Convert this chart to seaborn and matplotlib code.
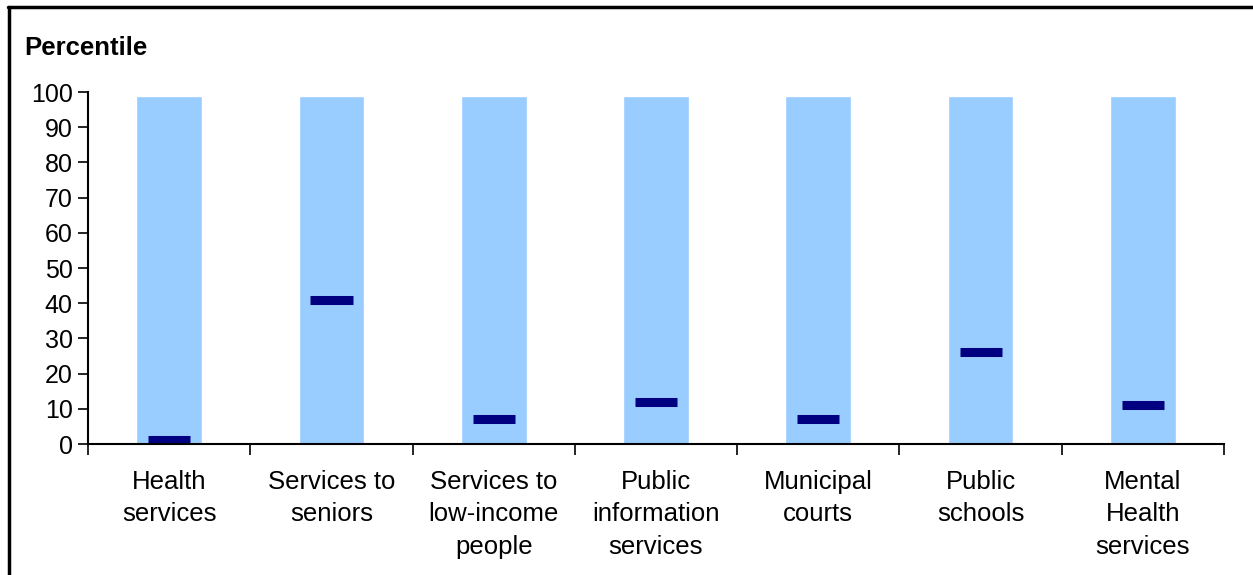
import numpy as np
import matplotlib
matplotlib.use("Agg")
import matplotlib.pyplot as plt
import seaborn as sns
from matplotlib.lines import Line2D

# categories and values
categories = ["Health\nservices", "Services to\nseniors", "Services to\nlow-income\npeople",
              "Public\ninformation\nservices", "Municipal\ncourts", "Public\nschools",
              "Mental\nHealth\nservices"]
range_top = [99, 99, 99, 99, 99, 99, 99]
percentile = [1, 41, 7, 12, 7, 26, 11]

sns.set_style("white")
plt.rcParams["font.family"] = ["Liberation Sans", "DejaVu Sans"]
plt.rcParams["text.color"] = "black"
plt.rcParams["xtick.color"] = "black"
plt.rcParams["ytick.color"] = "black"
plt.rcParams["xtick.labelcolor"] = "black"
plt.rcParams["ytick.labelcolor"] = "black"

fig = plt.figure(figsize=(12.53, 5.75), dpi=100)
ax = fig.add_axes([0.0702, 0.2278, 0.9067, 0.6122])

# light blue background bars (full range)
sns.barplot(x=categories, y=range_top, color="#99CCFF", width=0.405,
            saturation=1, ax=ax)

# navy markers at the percentile values
pos = np.arange(len(categories))
ax.hlines(percentile, pos - 0.13, pos + 0.13, colors="#000080", linewidth=6.5)

ax.set_xlim(-0.5, len(categories) - 0.5)
ax.set_ylim(0, 100)
ax.set_yticks(range(0, 101, 10))
ax.tick_params(axis="y", labelsize=18, length=7, width=1.2, direction="out",
               left=True, pad=4)
ax.tick_params(axis="x", which="major", length=0, labelsize=18.5, pad=18.5)
ax.set_xticks(np.arange(-0.5, len(categories)), minor=True)
ax.tick_params(axis="x", which="minor", length=8, width=1.2, direction="out",
               bottom=True)
for lab in ax.get_xticklabels():
    lab.set_linespacing(1.45)
    lab.set_verticalalignment("top")

for s in ["top", "right"]:
    ax.spines[s].set_visible(False)
for s in ["left", "bottom"]:
    ax.spines[s].set_color("black")
    ax.spines[s].set_linewidth(1.5)

ax.set_ylabel("")
fig.text(24 / 1253, 1 - 48 / 575, "Percentile", fontsize=18.5, fontweight="bold",
         va="center", ha="left")

# outer frame lines (top and left)
fig.add_artist(Line2D([8 / 1253, 1], [1 - 7 / 575, 1 - 7 / 575], color="black",
                      linewidth=2.5, transform=fig.transFigure))
fig.add_artist(Line2D([9 / 1253, 9 / 1253], [0, 1 - 7 / 575], color="black",
                      linewidth=2.5, transform=fig.transFigure))

fig.savefig("out.png", dpi=100)
